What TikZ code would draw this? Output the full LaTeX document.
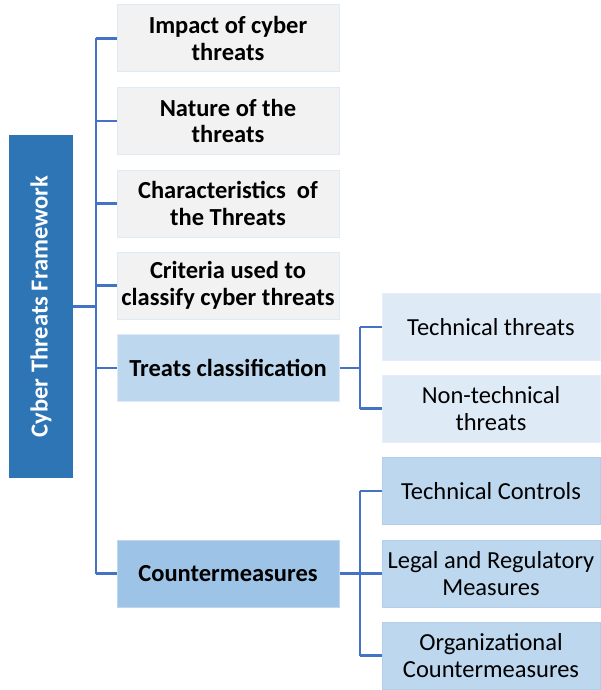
\documentclass[tikz,border=0pt]{standalone}
\usepackage{fontspec}
\setmainfont{Carlito}
\definecolor{rootblue}{HTML}{2E75B6}
\definecolor{linkblue}{HTML}{4472C4}
\definecolor{lightgrey}{HTML}{F2F2F2}
\definecolor{paleblue}{HTML}{DEEBF7}
\definecolor{midblue}{HTML}{BDD7EE}
\definecolor{deepblue}{HTML}{9DC3E6}
\begin{document}
\begin{tikzpicture}[x=1pt, y=-1pt,
    box/.style = {draw=paleblue, line width=1pt, minimum height=67pt,
      align=center, inner sep=1pt, font=\fontsize{24.5}{26.5}\selectfont},
    topic/.style = {box, fill=lightgrey, minimum width=222pt, font=\fontsize{24.5}{26.5}\selectfont\bfseries},
    branch/.style = {topic, fill=midblue},
    leaf/.style = {box, fill=paleblue, draw=paleblue!80!white, minimum width=218pt},
    subleaf/.style = {box, fill=midblue, draw=deepblue!80!white, minimum width=218pt},
    link/.style = {draw=linkblue, line width=2.2pt}
  ]

  \useasboundingbox (0, 0) rectangle (601, 690);

  \node[fill=rootblue, minimum width=64pt, minimum height=343pt] (root) at (41, 306.5) {};
  \node[rotate=90, text=white, font=\fontsize{24.5}{26.5}\selectfont\bfseries] (roottext) at (root.center) {Cyber Threats Framework};

  \node[topic] (impact) at (228, 38.5) {Impact of cyber\\threats};
  \node[topic] (nature) at (228, 121) {Nature of the\\threats};
  \node[topic] (charac) at (228, 203.5) {Characteristics~ of\\the Threats};
  \node[topic] (criteria) at (228, 285.5) {Criteria used to\\classify cyber threats};
  \node[branch] (classes) at (228, 368) {Treats classification};
  \node[branch, fill=deepblue, draw=deepblue!90!linkblue!60] (counter) at (228, 573.5) {Countermeasures};

  \node[leaf] (technical) at (491, 327) {Technical threats};
  \node[leaf] (nontechnical) at (491, 408.5) {Non-technical\\threats};
  \node[subleaf] (controls) at (491, 491) {Technical Controls};
  \node[subleaf] (legal) at (491, 573.5) {Legal and Regulatory\\Measures};
  \node[subleaf] (organ) at (491, 655.5) {Organizational\\Countermeasures};

  \coordinate (trunk) at (96, 0);
  \coordinate (fork1) at (360, 0);
  \coordinate (fork2) at (360, 0);

  \draw[link] (root.east |- root.center) -- (trunk |- root.center);
  \draw[link] (trunk |- impact) -- (trunk |- counter);
  \foreach \n in {impact, nature, charac, criteria, classes, counter}
    \draw[link] (trunk |- \n) -- (\n.west);

  \draw[link] (classes.east) -- (fork1 |- classes);
  \draw[link] (fork1 |- technical) -- (fork1 |- nontechnical);
  \foreach \n in {technical, nontechnical}
    \draw[link] (fork1 |- \n) -- (\n.west);

  \draw[link] (counter.east) -- (fork2 |- counter);
  \draw[link] (fork2 |- controls) -- (fork2 |- organ);
  \foreach \n in {controls, legal, organ}
    \draw[link] (fork2 |- \n) -- (\n.west);

\end{tikzpicture}
\end{document}
